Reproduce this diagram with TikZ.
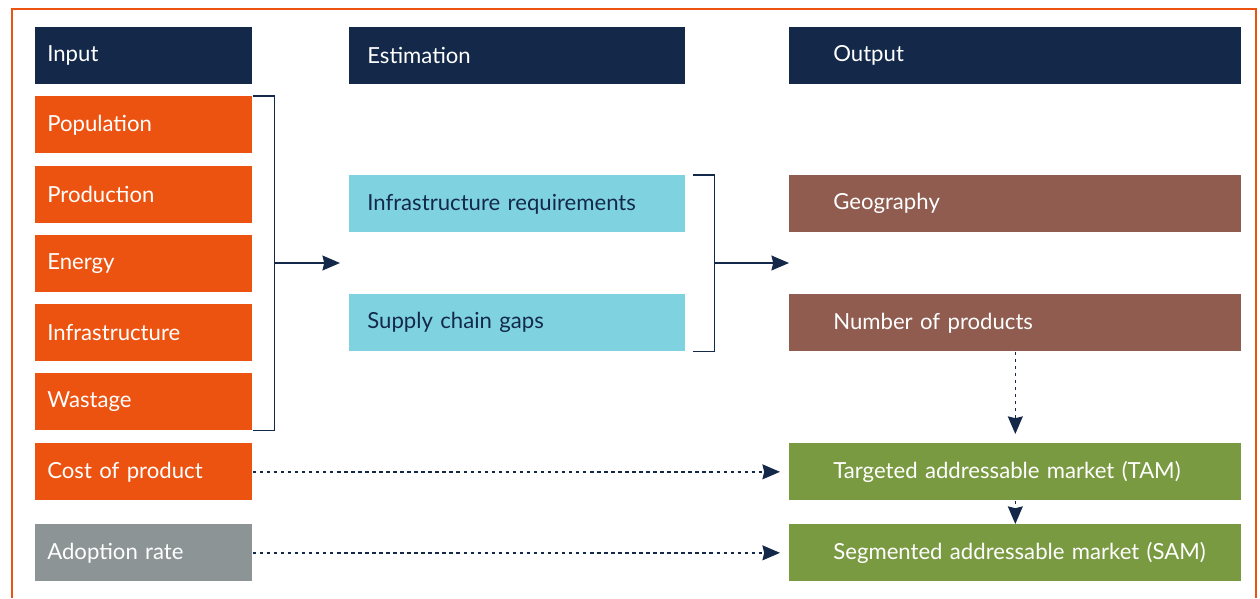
\documentclass[tikz,border=0pt]{standalone}
\usepackage{fontspec}
\setmainfont{Lato}
\usepackage{xcolor}
\usetikzlibrary{arrows.meta}

\definecolor{navy}{RGB}{20,41,74}
\definecolor{rust}{RGB}{236,83,17}
\definecolor{slate}{RGB}{140,148,150}
\definecolor{sky}{RGB}{127,211,224}
\definecolor{clay}{RGB}{143,92,79}
\definecolor{olive}{RGB}{122,154,66}

\tikzset{
    box/.style = {anchor = north west, minimum height = 1.14cm, inner ysep = 0pt,
        align = left, font = \fontsize{12.6}{14}\selectfont, text = white},
    inbox/.style = {box, inner xsep = 0.24cm, text width = 3.86cm},
    midbox/.style = {box, inner xsep = 0.36cm, text width = 6.0cm},
    outbox/.style = {box, inner xsep = 0.44cm, text width = 8.16cm,
        execute at begin node = \hspace*{0.44cm}},
    bracket/.style = {draw = navy, line width = 0.9pt},
    arr/.style = {navy, line width = 0.9pt, -{Stealth[length = 10pt, width = 8.5pt, inset = 1pt]}},
    dotarr/.style = {arr, dash pattern = on 2pt off 2pt}
}

\begin{document}
\begin{tikzpicture}[x = 0.02cm, y = -0.02cm]
        \useasboundingbox (0, 0) rectangle (1260, 598);
        \draw[rust, line width = 1.2pt] (12, 598) -- (12, 9) -- (1256, 9) -- (1256, 598);

        % headers
        \node[inbox, fill = navy] (hin) at (35, 27) {Input};
        \node[midbox, fill = navy] (hest) at (349, 27) {Estimation};
        \node[outbox, fill = navy] (hout) at (789, 27) {Output};

        % inputs
        \node[inbox, fill = rust] (pop) at (35, 96) {Population};
        \node[inbox, fill = rust] (prod) at (35, 166) {Production};
        \node[inbox, fill = rust] (energy) at (35, 235) {Energy};
        \node[inbox, fill = rust] (infra) at (35, 304) {Infrastructure};
        \node[inbox, fill = rust] (waste) at (35, 373) {Wastage};
        \node[inbox, fill = rust] (cost) at (35, 443) {Cost of product};
        \node[inbox, fill = slate] (adopt) at (35, 524) {Adoption rate};

        % estimation
        \node[midbox, fill = sky, text = navy] (req) at (349, 175) {Infrastructure requirements};
        \node[midbox, fill = sky, text = navy] (gaps) at (349, 294) {Supply chain gaps};

        % outputs
        \node[outbox, fill = clay] (geo) at (789, 175) {Geography};
        \node[outbox, fill = clay] (nprod) at (789, 294) {Number of products};
        \node[outbox, fill = olive] (tam) at (789, 443) {Targeted addressable market (TAM)};
        \node[outbox, fill = olive] (sam) at (789, 524) {Segmented addressable market (SAM)};

        % brackets
        \draw[bracket] (pop.north east) -- ++(22, 0) |- (waste.south east);
        \coordinate (j1) at (274, 263);
        \coordinate (e1) at (340, 263);
        \draw[arr] (j1) -- (e1);

        \draw[bracket] ([xshift = 0.14cm] req.north east) -- ++(22, 0) |- ([xshift = 0.14cm] gaps.south east);
        \coordinate (j2) at (714, 263);
        \draw[arr] (j2) -- (geo.west |- j2);

        % dotted links
        \draw[dotarr, shorten > = 0.18cm] (cost.east) -- (tam.west);
        \draw[dotarr, shorten > = 0.18cm] (adopt.east) -- (sam.west);
        \draw[dotarr, shorten > = 0.18cm] (nprod.south) -- (tam.north);
        \draw[dotarr] (tam.south) -- (sam.north);
    \end{tikzpicture}
\end{document}
